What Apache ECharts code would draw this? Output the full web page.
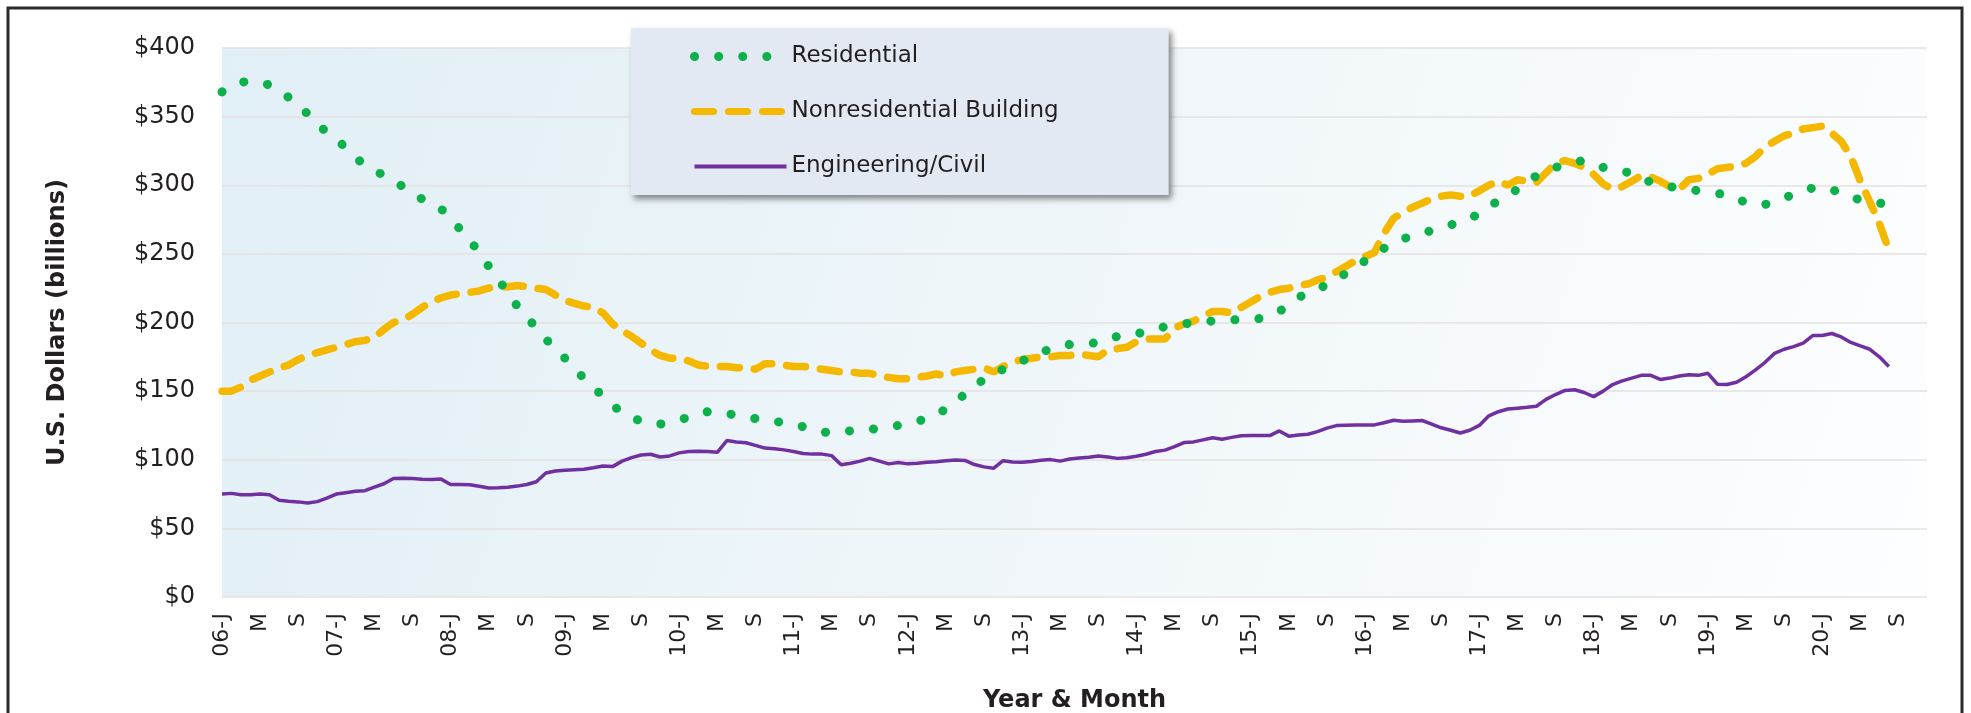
<!DOCTYPE html>
<html>
<head>
<meta charset="utf-8">
<title>Construction spending by type</title>
<script src="https://cdn.jsdelivr.net/npm/echarts@6/dist/echarts.min.js"></script>
<style>
  html, body { margin: 0; padding: 0; background: #fff; }
  #chart { width: 1971px; height: 713px; }
</style>
</head>
<body>
<div id="chart"></div>
<script>
// months Jan 2006 .. Dec 2020 on the axis, data runs to Aug 2020
var years = ["06", "07", "08", "09", "10", "11", "12", "13", "14", "15", "16", "17", "18", "19", "20"];
var monthCodes = ["Jan", "Feb", "Mar", "Apr", "May", "Jun", "Jul", "Aug", "Sep", "Oct", "Nov", "Dec"];
// tick labels shown every 4 months (Jan / May / Sep)
var tickLetters = { 0: "J", 4: "M", 8: "S" };
var yTicks = [0, 50, 100, 150, 200, 250, 300, 350, 400];

var categories = [];
years.forEach(function (y) {
  monthCodes.forEach(function (m) { categories.push(y + "-" + m); });
});

var seriesNames = ["Residential", "Nonresidential Building", "Engineering/Civil"];

var residential = [
  368, 372, 375, 376, 375, 373, 369, 364, 358, 352, 344, 339,
  334, 327, 320, 315, 311, 307, 303, 299, 294, 290, 287, 283,
  275, 268, 261, 250, 241, 232, 221, 212, 204, 196, 188, 180,
  174, 167, 159, 153, 146, 140, 134, 131, 128, 126, 126, 127,
  129, 131, 134, 135, 135, 134, 132, 131, 130, 129, 128, 127,
  126, 124, 122, 120, 120, 121, 121, 121, 122, 123, 124, 125,
  126, 128, 130, 133, 137, 142, 148, 153, 159, 162, 166, 169,
  172, 175, 178, 181, 183, 184, 184, 185, 185, 187, 190, 192,
  192, 193, 195, 197, 198, 199, 200, 201, 201, 202, 202, 202,
  202, 203, 205, 208, 213, 218, 222, 225, 227, 231, 236, 240,
  245, 249, 254, 258, 261, 263, 265, 267, 269, 271, 274, 276,
  279, 284, 289, 293, 297, 302, 307, 310, 313, 315, 317, 318,
  316, 313, 311, 310, 309, 306, 302, 300, 299, 298, 297, 296,
  295, 294, 293, 291, 287, 286, 286, 288, 291, 293, 296, 298,
  299, 297, 294, 292, 289, 288, 287, 286
];

var nonresidential = [
  150, 150, 153, 158, 161, 164, 167, 169, 173, 176, 178, 180,
  182, 184, 186, 187, 189, 195, 200, 202, 206, 211, 215, 218,
  220, 221, 222, 223, 225, 226, 226, 227, 226, 225, 224, 220,
  216, 214, 212, 211, 207, 199, 194, 190, 185, 180, 176, 174,
  174, 172, 169, 168, 168, 168, 167, 167, 166, 170, 170, 169,
  168, 168, 167, 166, 165, 164, 164, 163, 163, 161, 160, 159,
  159, 160, 161, 162.5, 161, 164, 165, 166, 167, 164, 168, 171,
  173, 174, 175, 175, 176, 176, 177, 176, 175, 180, 181, 182,
  186, 188, 188, 188, 196, 199, 201, 205, 208, 208, 207, 211,
  215, 219, 222, 224, 225, 227, 228, 231, 233, 237, 241, 245,
  248, 251, 265, 276, 280, 284, 287, 290, 292, 293, 292, 292,
  296, 300, 303, 300, 304, 303, 302, 309, 316, 318, 316, 313,
  308, 301, 297, 299, 303, 307, 306, 303, 299, 297, 304, 305,
  308, 312, 313, 314, 316, 321, 328, 332, 336, 338, 341, 342,
  343, 338, 332, 321, 303, 288, 272, 253
];

var engineering = [
  75, 75.5, 74.5, 74.5, 75, 74.5, 70.5, 69.8, 69.3, 68.5, 69.5, 72,
  75, 76, 77, 77.5, 80, 82.5, 86.4, 86.5, 86.4, 85.8, 85.7, 85.9,
  82, 82, 81.8, 80.7, 79.4, 79.6, 80, 80.8, 82, 84, 90.3, 91.8,
  92.4, 92.8, 93.1, 94.2, 95.5, 95, 99, 101.5, 103.5, 104, 102, 102.8,
  105, 106, 106.2, 106, 105.4, 114, 113, 112.4, 110.5, 108.5, 108, 107.2,
  106, 104.5, 104.1, 104.1, 103, 96.3, 97.5, 99, 101, 99, 97, 98,
  97, 97.5, 98.2, 98.6, 99.3, 99.8, 99.5, 96.5, 94.8, 93.8, 99.3, 98.4,
  98.2, 98.8, 99.6, 100.1, 99, 100.5, 101.2, 101.8, 102.8, 102, 101, 101.4,
  102.5, 104, 106, 107, 109.5, 112.5, 113, 114.5, 116, 115, 116.3, 117.5,
  117.6, 117.6, 117.6, 121, 117.2, 118, 118.6, 120.5, 123, 124.9, 125.2, 125.4,
  125.4, 125.4, 127, 128.8, 128, 128.3, 128.6, 126, 123.3, 121.5, 119.5, 121.5,
  125, 132, 135, 137, 137.6, 138.2, 139, 144, 147.5, 150.5, 151, 149,
  146, 150, 154.8, 157.5, 159.5, 161.5, 161.5, 158.5, 159.5, 161, 162, 161.5,
  163, 155, 154.8, 156.5, 160.5, 165.5, 171, 177.5, 180.5, 182.4, 185, 190.5,
  190.5, 192, 189.5, 185.5, 183, 180.5, 175, 168
];

var chart = echarts.init(document.getElementById("chart"));
var font = "DejaVu Sans";
var green = "#0db14b", gold = "#f4b800", purple = "#7030a0";
var dots = [0.1, 24], dashes = [19, 15];

chart.setOption({
  backgroundColor: "#ffffff",
  animation: false,
  textStyle: { fontFamily: font, color: "#231f20" },
  // black frame round the picture (bottom edge falls outside the window)
  graphic: [{
    type: "rect",
    silent: true,
    shape: { x: 8, y: 8, width: 1954, height: 800 },
    style: { fill: "none", stroke: "#2b2b2b", lineWidth: 3 }
  }],
  grid: {
    left: 222, right: 44, top: 48, bottom: 116,
    containLabel: false,
    outerBoundsMode: "none",
    show: true,
    borderWidth: 0,
    backgroundColor: {
      type: "linear", x: 0, y: 0, x2: 1, y2: 1,
      colorStops: [
        { offset: 0, color: "#e1eff6" },
        { offset: 0.55, color: "#f1f7fa" },
        { offset: 1, color: "#fdfeff" }
      ]
    }
  },
  legend: {
    orient: "vertical",
    left: 631, top: 28,
    padding: [17, 110, 17, 59],
    itemWidth: 92, itemHeight: 14, itemGap: 32,
    backgroundColor: "#e3e9f3",
    shadowColor: "rgba(0,0,0,0.45)",
    shadowBlur: 6, shadowOffsetX: 3, shadowOffsetY: 4,
    textStyle: { fontFamily: font, fontSize: 23, color: "#231f20" },
    data: [
      { name: seriesNames[0], lineStyle: { width: 9, type: dots, cap: "round" } },
      { name: seriesNames[1], lineStyle: { width: 7, type: dashes, cap: "round" } },
      { name: seriesNames[2], lineStyle: { width: 4 } }
    ]
  },
  xAxis: {
    type: "category",
    data: categories,
    boundaryGap: false,
    name: "Year & Month",
    nameLocation: "middle",
    nameGap: 92,
    nameTextStyle: { fontFamily: font, fontSize: 24, fontWeight: "bold", color: "#231f20" },
    axisLine: { show: false },
    axisTick: { show: false },
    axisLabel: {
      rotate: 90,
      margin: 16,
      fontSize: 22,
      color: "#231f20",
      interval: function (index) { return index % 4 === 0; },
      formatter: function (value, index) {
        var m = index % 12;
        var yy = value.split("-")[0];
        if (m === 0) return yy + "-" + tickLetters[0];
        return tickLetters[m] || "";
      }
    },
    splitLine: { show: false }
  },
  yAxis: {
    type: "value",
    min: yTicks[0],
    max: yTicks[yTicks.length - 1],
    interval: 50,
    name: "U.S. Dollars (billions)",
    nameLocation: "middle",
    nameGap: 152,
    nameTextStyle: { fontFamily: font, fontSize: 24, fontWeight: "bold", color: "#231f20" },
    axisLine: { show: false },
    axisTick: { show: false },
    axisLabel: {
      margin: 27,
      fontSize: 24,
      color: "#231f20",
      formatter: function (v) { return "$" + v; }
    },
    splitLine: { lineStyle: { color: "#e4e0e0", width: 1.5 } }
  },
  series: [
    {
      name: seriesNames[0],
      type: "line",
      data: residential,
      symbol: "none",
      z: 3,
      lineStyle: { color: green, width: 9, type: dots, cap: "round" },
      // transparent so the legend shows only the line pattern
      itemStyle: { color: "rgba(0,0,0,0)" }
    },
    {
      name: seriesNames[1],
      type: "line",
      data: nonresidential,
      symbol: "none",
      z: 2,
      lineStyle: { color: gold, width: 7.5, type: dashes, cap: "round" },
      itemStyle: { color: "rgba(0,0,0,0)" }
    },
    {
      name: seriesNames[2],
      type: "line",
      data: engineering,
      symbol: "none",
      z: 1,
      lineStyle: { color: purple, width: 3.5 },
      itemStyle: { color: "rgba(0,0,0,0)" }
    }
  ]
});

window.addEventListener("resize", function () {
  chart.resize();
});
</script>
</body>
</html>
